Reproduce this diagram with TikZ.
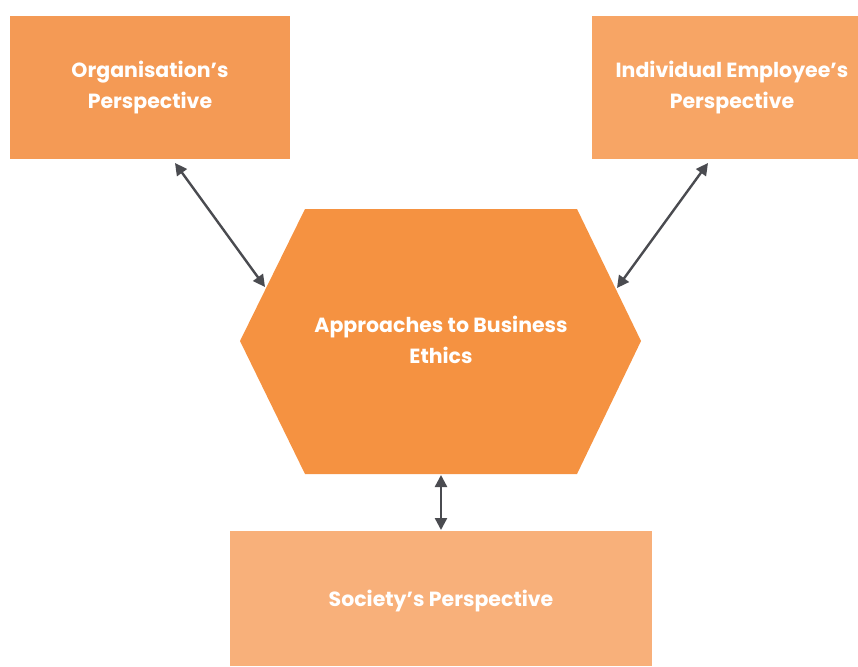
\documentclass[tikz,border=0pt]{standalone}
\usepackage{fontspec}
\setmainfont{Poppins}
\usetikzlibrary{arrows.meta}
\definecolor{orgc}{HTML}{F49A55}
\definecolor{indc}{HTML}{F7A565}
\definecolor{hexc}{HTML}{F59241}
\definecolor{socc}{HTML}{F8B07A}
\definecolor{arrc}{HTML}{4A4B50}
\tikzset{
  box/.style={inner sep=0pt, text=white, font=\bfseries\fontsize{20.5}{30.5}\selectfont, align=center},
  link/.style={draw=arrc, line width=2.4pt, {Triangle[length=12pt,width=12pt]}-{Triangle[length=12pt,width=12pt]}}
}
\begin{document}
\begin{tikzpicture}[x=1pt,y=-1pt]
\useasboundingbox (0,0) rectangle (858,666);
% boxes
\fill[orgc] (10,16) rectangle (290,159);
\node[box] (org) at (150,87.5) {Organisation’s\\Perspective};
\fill[indc] (592,16) rectangle (858,159);
\node[box] (ind) at (732,87.5) {Individual Employee’s\\Perspective};
\fill[socc] (230,531) rectangle (652,666);
\node[box] (soc) at (441,601) {Society’s Perspective};
% hexagon
\fill[hexc] (305,209) -- (577,209) -- (641,341) -- (577,474) -- (305,474) -- (240,341) -- cycle;
\node[box] (hex) at (441,340) {Approaches to Business\\Ethics};
% connector ends
\coordinate (orgB) at (175,163);
\coordinate (hexL) at (265,287);
\coordinate (indB) at (708,163);
\coordinate (hexR) at (617,288);
\coordinate (hexB) at (441,475);
\coordinate (socT) at (441,530);
\draw[link] (orgB) -- (hexL);
\draw[link] (indB) -- (hexR);
\draw[link] (hexB) -- (socT);
\end{tikzpicture}
\end{document}
